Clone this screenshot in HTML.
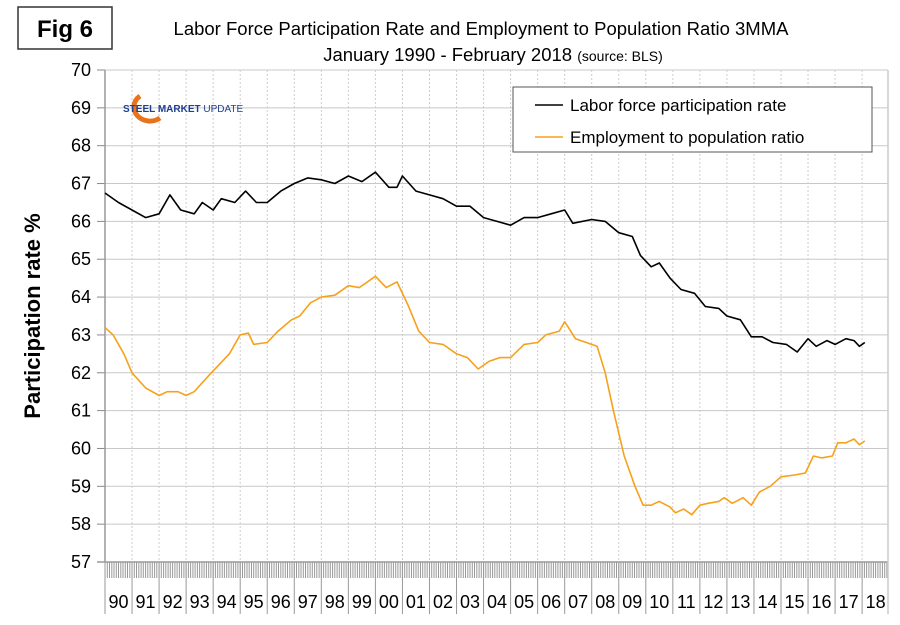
<!DOCTYPE html>
<html><head><meta charset="utf-8"><style>
body{margin:0;background:#fff;font-family:"Liberation Sans",Arial,sans-serif}
svg text{font-family:"Liberation Sans",Arial,sans-serif}
</style></head><body>
<svg id="c" width="900" height="620" xmlns="http://www.w3.org/2000/svg">
<rect x="0" y="0" width="900" height="620" fill="#fff"/>
<rect x="18" y="7" width="94" height="42" fill="#fff" stroke="#333" stroke-width="1.5"/>
<text x="65" y="37" font-size="24" font-weight="bold" text-anchor="middle">Fig 6</text>
<text x="481" y="35" font-size="18.5" text-anchor="middle">Labor Force Participation Rate and Employment to Population Ratio 3MMA</text>
<text x="493" y="61" font-size="18.5" text-anchor="middle">January 1990 - February 2018 <tspan font-size="14">(source: BLS)</tspan></text>
<text transform="translate(40,316) rotate(-90)" font-size="22" font-weight="bold" text-anchor="middle">Participation rate %</text>
<g id="grid"></g><g id="axes"></g><g id="series"></g>
<g>
<path d="M140,96 A16,14 0 1 0 160,118" fill="none" stroke="#e8731c" stroke-width="5"/>
<text x="123" y="112" font-size="10" font-weight="bold" fill="#1f3f8f">STEEL MARKET <tspan font-weight="normal">UPDATE</tspan></text>
</g>
<rect x="513" y="87" width="359" height="65" fill="#fff" stroke="#555" stroke-width="1"/>
<line x1="535" y1="105" x2="563" y2="105" stroke="#000" stroke-width="1.5"/>
<text x="570" y="111" font-size="17">Labor force participation rate</text>
<line x1="535" y1="137" x2="563" y2="137" stroke="#f7a11a" stroke-width="1.5"/>
<text x="570" y="143" font-size="17">Employment to population ratio</text>
</svg>
<script>
const yTicks=[57,58,59,60,61,62,63,64,65,66,67,68,69,70];
const yearLabels=["90","91","92","93","94","95","96","97","98","99","00","01","02","03","04","05","06","07","08","09","10","11","12","13","14","15","16","17","18"];
const lfprT=[1990.0,1990.5,1991.0,1991.5,1992.0,1992.4,1992.8,1993.3,1993.6,1994.0,1994.3,1994.8,1995.2,1995.6,1996.0,1996.5,1997.0,1997.5,1998.0,1998.5,1999.0,1999.5,2000.0,2000.5,2000.8,2001.0,2001.5,2002.0,2002.5,2003.0,2003.5,2004.0,2004.5,2005.0,2005.5,2006.0,2006.5,2007.0,2007.3,2008.0,2008.5,2009.0,2009.5,2009.8,2010.2,2010.5,2010.9,2011.3,2011.8,2012.2,2012.7,2013.0,2013.5,2013.9,2014.3,2014.7,2015.2,2015.6,2016.0,2016.3,2016.7,2017.0,2017.4,2017.7,2017.9,2018.1];
const lfprV=[66.75,66.5,66.3,66.1,66.2,66.7,66.3,66.2,66.5,66.3,66.6,66.5,66.8,66.5,66.5,66.8,67.0,67.15,67.1,67.0,67.2,67.05,67.3,66.9,66.9,67.2,66.8,66.7,66.6,66.4,66.4,66.1,66.0,65.9,66.1,66.1,66.2,66.3,65.95,66.05,66.0,65.7,65.6,65.1,64.8,64.9,64.5,64.2,64.1,63.75,63.7,63.5,63.4,62.95,62.95,62.8,62.75,62.55,62.9,62.7,62.85,62.75,62.9,62.85,62.7,62.8];
const epopT=[1990.0,1990.3,1990.7,1991.0,1991.5,1992.0,1992.3,1992.7,1993.0,1993.3,1993.8,1994.2,1994.6,1995.0,1995.3,1995.5,1996.0,1996.4,1996.9,1997.2,1997.6,1998.0,1998.5,1999.0,1999.4,2000.0,2000.4,2000.8,2001.2,2001.6,2002.0,2002.5,2003.0,2003.4,2003.8,2004.2,2004.6,2005.0,2005.5,2006.0,2006.3,2006.8,2007.0,2007.4,2007.8,2008.2,2008.5,2008.8,2009.2,2009.6,2009.9,2010.2,2010.5,2010.9,2011.1,2011.4,2011.7,2012.0,2012.3,2012.7,2012.9,2013.2,2013.6,2013.9,2014.2,2014.6,2015.0,2015.5,2015.9,2016.2,2016.5,2016.9,2017.1,2017.4,2017.7,2017.9,2018.1];
const epopV=[63.2,63.0,62.5,62.0,61.6,61.4,61.5,61.5,61.4,61.5,61.9,62.2,62.5,63.0,63.05,62.75,62.8,63.1,63.4,63.5,63.85,64.0,64.05,64.3,64.25,64.55,64.25,64.4,63.8,63.1,62.8,62.75,62.5,62.4,62.1,62.3,62.4,62.4,62.75,62.8,63.0,63.1,63.35,62.9,62.8,62.7,62.0,61.0,59.8,59.0,58.5,58.5,58.6,58.45,58.3,58.4,58.25,58.5,58.55,58.6,58.7,58.55,58.7,58.5,58.85,59.0,59.25,59.3,59.35,59.8,59.75,59.8,60.15,60.15,60.25,60.1,60.2];
const NS="http://www.w3.org/2000/svg";
const X0=105,X1=888,Y0=562,Y1=70;
const pxYear=27.04;
function xs(t){return X0+(t-1990)*pxYear;}
function ys(v){return Y0-(v-57)*(Y0-Y1)/13;}
function mk(tag,attrs,parent){const e=document.createElementNS(NS,tag);for(const k in attrs)e.setAttribute(k,attrs[k]);parent.appendChild(e);return e;}
const grid=document.getElementById('grid'),axes=document.getElementById('axes'),ser=document.getElementById('series');
yTicks.forEach(v=>{
  const l=mk('line',{x1:X0,x2:X1,y1:ys(v),y2:ys(v),stroke:'#c8c8c8','stroke-width':1},grid);
  
  
  const tk=mk('line',{x1:X0-8,x2:X0,y1:ys(v),y2:ys(v),stroke:'#888'},axes);
  
  
  const t=mk('text',{x:X0-14,y:ys(v)+6,'font-size':18,'text-anchor':'end'},axes);
  t.textContent=v;
  
  
});
yearLabels.forEach((lab,i)=>{
  const x=xs(1990+i);
  if(i>0){const g=mk('line',{x1:x,x2:x,y1:Y1,y2:Y0,stroke:'#ccc','stroke-dasharray':'2,2'},grid);
  
  }
  const tk=mk('line',{x1:x,x2:x,y1:Y0,y2:614,stroke:'#999'},axes);
  
  
  const t=mk('text',{x:x+13.5,y:608,'font-size':18,'text-anchor':'middle'},axes);
  t.textContent=lab;
  
  
});
let d='';for(let m=0;m<29*12;m++){const x=xs(1990+m/12);if(x>X1)break;d+='M'+x.toFixed(1)+','+Y0+'V578';}
const mt=mk('path',{d:d,stroke:'#999','stroke-width':1,fill:'none'},axes);


const ax=mk('line',{x1:X0,x2:X0,y1:Y1,y2:Y0,stroke:'#999','stroke-width':1.5},axes);


const bx=mk('line',{x1:X0-8,x2:X1,y1:Y0,y2:Y0,stroke:'#999','stroke-width':1.5},axes);


const rx=mk('line',{x1:X1,x2:X1,y1:Y1,y2:614,stroke:'#ccc','stroke-width':1.5},axes);


function line(T,V,color,name){
  const pts=T.map((t,i)=>xs(t).toFixed(1)+','+ys(V[i]).toFixed(1)).join(' ');
  const p=mk('polyline',{points:pts,fill:'none',stroke:color,'stroke-width':1.6,'stroke-linejoin':'round'},ser);
  
  
}
line(lfprT,lfprV,'#000','lfpr-line');
line(epopT,epopV,'#f7a11a','epop-line');
</script>
</body></html>
